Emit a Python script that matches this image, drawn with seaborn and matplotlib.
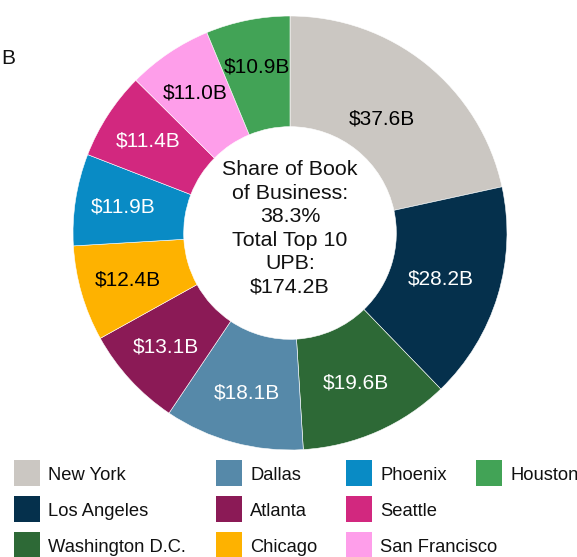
import numpy as np
import matplotlib
matplotlib.use("Agg")
import matplotlib.pyplot as plt
from matplotlib.patches import Rectangle
import seaborn as sns

# Top 10 metros by unpaid principal balance (UPB), $ billions
cities = ["New York", "Los Angeles", "Washington D.C.", "Dallas", "Atlanta",
          "Chicago", "Phoenix", "Seattle", "San Francisco", "Houston"]
upb = [37.6, 28.2, 19.6, 18.1, 13.1, 12.4, 11.9, 11.4, 11.0, 10.9]
share_of_book = 38.3

colors = ["#CBC7C2", "#05304C", "#2D6936", "#5689A9", "#8B1A56",
          "#FEB200", "#098BC5", "#D2287F", "#FE9EEA", "#42A356"]
label_colors = ["black", "white", "white", "white", "white",
                "black", "white", "white", "black", "black"]

# legend layout: column-major, 3 rows
legend_order = ["New York", "Los Angeles", "Washington D.C.",
                "Dallas", "Atlanta", "Chicago",
                "Phoenix", "Seattle", "San Francisco",
                "Houston"]

sns.set_theme(style="white")
plt.rcParams["font.family"] = ["Liberation Sans", "DejaVu Sans"]

W, H = 577, 557
fig = plt.figure(figsize=(W / 100, H / 100), dpi=100)
fig.patch.set_facecolor("white")

# donut axes: centre (290, 233) px, radius 217 px
cx, cy, R = 290, 233, 217
ax = fig.add_axes([(cx - R) / W, (H - cy - R) / H, 2 * R / W, 2 * R / H])
ax.set_axis_off()

palette = sns.color_palette(colors)
inner = 0.49
wedges, _ = ax.pie(upb, colors=palette, startangle=90, counterclock=False,
                   radius=1.0,
                   wedgeprops=dict(width=1 - inner, edgecolor="white", linewidth=0.4))
ax.set_xlim(-1, 1)
ax.set_ylim(-1, 1)

# value labels inside each ring segment, pulled inward for wide segments
for w, v, tc in zip(wedges, upb, label_colors):
    mid = np.deg2rad((w.theta1 + w.theta2) / 2)
    half = np.deg2rad(abs(w.theta2 - w.theta1) / 2)
    rc = 0.79 * (np.sin(half) / half) ** 2
    ax.text(rc * np.cos(mid), rc * np.sin(mid), f"${v:.1f}B",
            ha="center", va="center", fontsize=15, color=tc)

total = sum(upb)
ax.text(0, 0.02,
        f"Share of Book\nof Business:\n{share_of_book:.1f}%\nTotal Top 10\nUPB:\n${total:.1f}B",
        ha="center", va="center", fontsize=15.4, color="#111111", linespacing=1.3)

# stray title fragment at the top left
fig.text(15 / W, 1 - 58 / H, "B", ha="right", va="center", fontsize=15, color="#111111")

# legend drawn as swatches + labels
col_x = [14, 216, 346, 476]
row_y = [473, 509, 545]
sw = 26
for i, name in enumerate(legend_order):
    c, r = divmod(i, 3)
    x, y = col_x[c], row_y[r]
    col = colors[cities.index(name)]
    fig.patches.append(Rectangle((x / W, 1 - (y + sw / 2) / H), sw / W, sw / H,
                                 transform=fig.transFigure, facecolor=col,
                                 edgecolor="none"))
    fig.text((x + 34) / W, 1 - (y + 2) / H, name, ha="left", va="center",
             fontsize=13.2, color="#111111")

fig.savefig("out.png", dpi=100)
